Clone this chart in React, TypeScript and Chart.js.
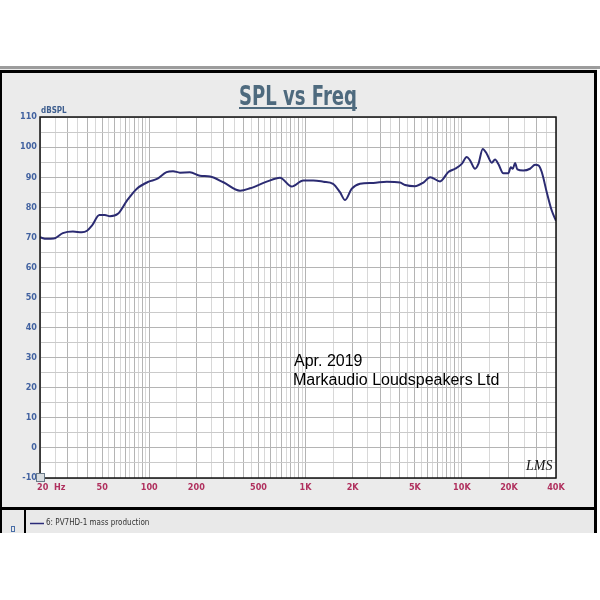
import React, { useEffect, useRef } from "react";
import { Chart, registerables } from "chart.js";

Chart.register(...registerables);

// Frequency (Hz) and SPL (dB)
const freqs = [
  20, 22, 24.5, 28, 32.5, 37, 40, 43, 48, 52, 56, 63, 72, 83, 99, 112, 129, 142, 157, 182,
  211, 245, 298, 381, 441, 564, 686, 815, 967, 1120, 1300, 1500, 1660, 1790, 1970, 2230,
  2710, 3310, 4020, 4330, 5010, 5670, 6260, 7250, 8190, 9040, 9980, 10740, 11270, 12140,
  12750, 13600, 14420, 15520, 16300, 17110, 18420, 19830, 20540, 21150, 21880, 22640,
  24720, 27290, 29380, 30850, 32430, 34900, 37570, 40000,
];
const spl = [
  70.0, 69.5, 69.6, 71.4, 71.9, 71.7, 72.2, 73.9, 77.4, 77.4, 77.0, 77.8, 82.2, 86.1, 88.5,
  89.4, 91.7, 92.0, 91.5, 91.6, 90.5, 90.2, 88.3, 85.5, 86.3, 88.5, 89.8, 86.9, 88.9, 88.9,
  88.5, 87.8, 85.0, 82.4, 86.1, 87.8, 88.1, 88.5, 88.2, 87.4, 87.0, 88.2, 90.0, 88.6, 91.7,
  92.8, 94.4, 96.7, 95.6, 92.8, 94.4, 99.4, 97.8, 94.8, 95.9, 94.4, 91.3, 91.3, 93.3, 92.8,
  94.7, 92.6, 92.2, 92.8, 94.1, 93.9, 91.7, 85.0, 78.9, 75.5,
];

const gridDecades = [10, 100, 1000, 10000];
const gridMantissas = [1, 1.5, 2, 2.5, 3, 3.5, 4, 4.5, 5, 5.5, 6, 6.5, 7, 7.5, 8, 8.5, 9, 9.5];
const xLabelValues = [20, 50, 100, 200, 500, 1000, 2000, 5000, 10000, 20000, 40000];
const xLabelTexts = ["20  Hz", "50", "100", "200", "500", "1K", "2K", "5K", "10K", "20K", "40K"];

const titleText = "SPL vs Freq";
const yUnitText = "dBSPL";
const noteLines = ["Apr. 2019", "Markaudio Loudspeakers Ltd"];
const legendText = "6: PV7HD-1 mass production";
const logoText = "LMS";

const NARROW = '"Liberation Sans Narrow", "Arial Narrow", "DejaVu Sans Condensed", sans-serif';

export default function App() {
  const ref = useRef<HTMLCanvasElement | null>(null);

  useEffect(() => {
    const canvas = ref.current;
    if (!canvas) return;

    const gridFreqs: number[] = [];
    gridDecades.forEach((d) =>
      gridMantissas.forEach((m) => {
        const v = Math.round(d * m);
        if (v >= 20 && v <= 40000) gridFreqs.push(v);
      })
    );
    gridFreqs.push(40000);

    const bgPlugin = {
      id: "bg",
      beforeDraw(chart: any) {
        const c = chart.ctx;
        const a = chart.chartArea;
        c.save();
        c.fillStyle = "#ffffff";
        c.fillRect(0, 0, 600, 600);
        c.fillStyle = "#9c9c9c";
        c.fillRect(0, 66, 600, 3);
        c.fillStyle = "#ebebeb";
        c.fillRect(0, 69, 597, 441);
        c.fillStyle = "#e9e9e9";
        c.fillRect(0, 510, 597, 23);
        c.fillStyle = "#000";
        c.fillRect(0, 70, 597, 3); // top
        c.fillRect(0, 70, 2, 463); // left
        c.fillRect(594, 70, 3, 463); // right
        c.fillRect(0, 507, 597, 3); // bottom of main panel
        c.fillRect(24, 510, 2, 23); // legend divider
        c.fillStyle = "#ffffff";
        c.fillRect(a.left, a.top, a.right - a.left, a.bottom - a.top);
        c.restore();
      },
      afterDraw(chart: any) {
        const c = chart.ctx;
        const a = chart.chartArea;
        const xs = chart.scales.x;
        c.save();
        // plot border
        c.strokeStyle = "#111";
        c.lineWidth = 1.5;
        c.strokeRect(a.left, a.top, a.right - a.left, a.bottom - a.top);

        // title (scaled to width)
        c.fillStyle = "#4e6a7e";
        c.font = `bold 26px ${NARROW}`;
        c.textBaseline = "alphabetic";
        c.textAlign = "left";
        const tw = c.measureText(titleText).width;
        const targetW = 118;
        c.save();
        c.translate(239, 105);
        c.scale(targetW / tw, 1);
        c.fillText(titleText, 0, 0);
        c.restore();
        c.fillRect(239, 107, targetW, 2);

        // y unit
        c.fillStyle = "#3e5e8e";
        c.font = `bold 8px ${NARROW}`;
        c.fillText(yUnitText, 41, 113);

        // x labels
        c.fillStyle = "#b0305e";
        c.font = `bold 9px ${NARROW}`;
        c.textBaseline = "middle";
        xLabelValues.forEach((v, i) => {
          const px = xs.getPixelForValue(v);
          if (i === 0) {
            c.textAlign = "left";
            c.fillText(xLabelTexts[i], px - 3, 488);
          } else {
            c.textAlign = "center";
            c.fillText(xLabelTexts[i], px, 488);
          }
        });

        // corner icon
        c.fillStyle = "#d8dde0";
        c.fillRect(36, 473, 9, 9);
        c.strokeStyle = "#6a7a88";
        c.lineWidth = 1;
        c.strokeRect(36.5, 473.5, 8, 8);

        // annotation
        c.fillStyle = "#000";
        c.textAlign = "left";
        c.textBaseline = "alphabetic";
        c.font = `16px "Liberation Sans", Arial, sans-serif`;
        c.fillText(noteLines[0], 294, 366);
        c.fillText(noteLines[1], 293, 385);

        // LMS logo
        c.font = `italic 14px "Liberation Serif", serif`;
        c.fillStyle = "#111";
        c.fillText(logoText, 526, 470);

        // legend
        c.strokeStyle = "#2b2b78";
        c.lineWidth = 1.5;
        c.beginPath();
        c.moveTo(30, 523.5);
        c.lineTo(44, 523.5);
        c.stroke();
        c.fillStyle = "#333";
        c.font = `8px ${NARROW}`;
        c.textBaseline = "middle";
        c.fillText(legendText, 46, 523);
        c.strokeStyle = "#4a6fa8";
        c.lineWidth = 1;
        c.strokeRect(11.5, 526.5, 3, 5);
        c.restore();
      },
    };

    const chart = new Chart(canvas, {
      type: "line",
      data: {
        datasets: [
          {
            data: freqs.map((f, i) => ({ x: f, y: spl[i] })),
            borderColor: "#2b2b72",
            borderWidth: 2,
            pointRadius: 0,
            cubicInterpolationMode: "monotone",
            fill: false,
          },
        ],
      },
      options: {
        animation: false,
        responsive: false,
        layout: { padding: { left: 0, top: 117, right: 44, bottom: 0 } },
        plugins: { legend: { display: false }, tooltip: { enabled: false }, title: { display: false } },
        scales: {
          x: {
            type: "logarithmic",
            min: 20,
            max: 40000,
            afterBuildTicks: (scale: any) => {
              scale.ticks = gridFreqs.map((v) => ({ value: v }));
            },
            afterFit: (scale: any) => {
              scale.height = 122;
            },
            ticks: { display: false },
            border: { display: false },
            grid: {
              drawTicks: false,
              lineWidth: 1,
              color: (ctx: any) => {
                const v = ctx.tick ? ctx.tick.value : 0;
                const m = v / Math.pow(10, Math.floor(Math.log10(v) + 1e-9));
                return Math.abs(m - Math.round(m)) < 0.01 ? "#b4b4b4" : "#d8d8d8";
              },
            },
          },
          y: {
            min: -10,
            max: 110,
            afterFit: (scale: any) => {
              scale.width = 40;
            },
            ticks: {
              stepSize: 5,
              autoSkip: false,
              padding: 3,
              color: "#4262a0",
              font: { size: 9, weight: "bold", family: NARROW },
              callback: (v: any) => (Number(v) % 10 === 0 ? String(v) : ""),
            },
            border: { display: false },
            grid: {
              drawTicks: false,
              color: (ctx: any) => (ctx.tick && ctx.tick.value % 10 === 0 ? "#b4b4b4" : "#cacaca"),
            },
          },
        },
      },
      plugins: [bgPlugin],
    } as any);

    return () => chart.destroy();
  }, []);

  return (
    <div style={{ position: "absolute", left: 0, top: 0, width: 600, height: 600 }}>
      <canvas ref={ref} width={600} height={600} style={{ width: 600, height: 600, display: "block" }} />
    </div>
  );
}
